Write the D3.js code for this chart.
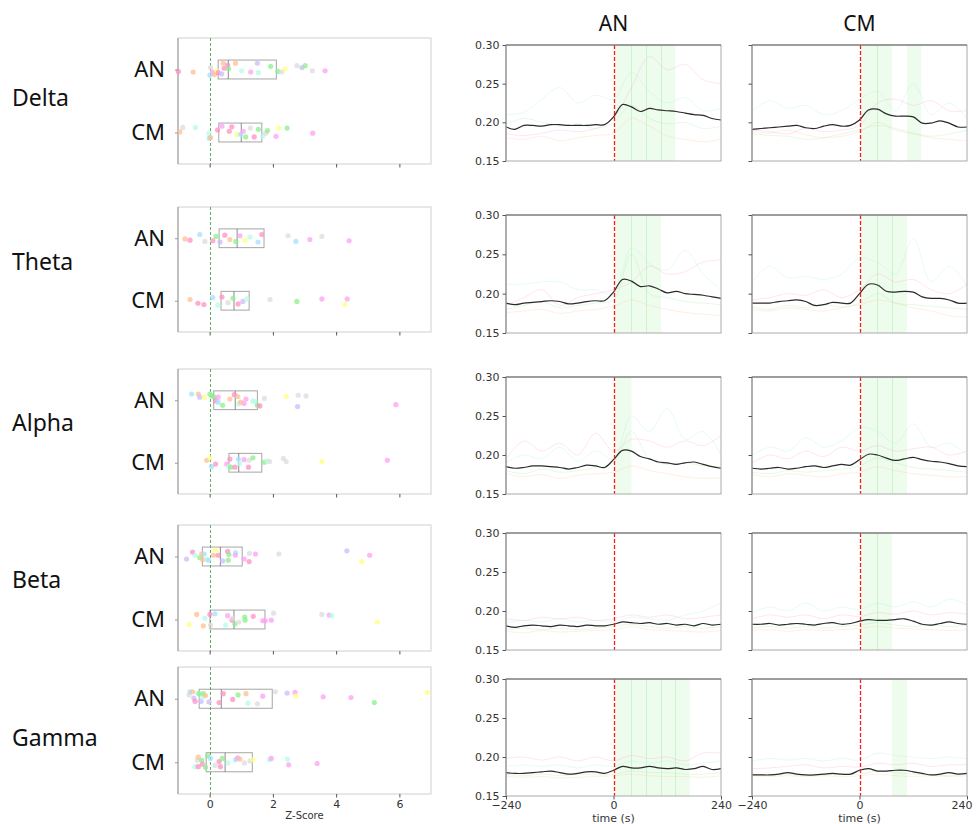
<!DOCTYPE html>
<html>
<head>
<meta charset="utf-8">
<script src="https://cdn.jsdelivr.net/npm/d3@7"></script>
<style>
  body { margin: 0; background: #fff; }
  svg { display: block; }
</style>
</head>
<body>
<div id="fig"></div>
<script>
// ---- data ----
const bands = ["Delta", "Theta", "Alpha", "Beta", "Gamma"];
const groups = ["AN", "CM"];
const zTicks = [0, 2, 4, 6];
const timeTicks = [-240, 0, 240];
const powerTicks = [0.15, 0.20, 0.25, 0.30];
const meanTimes = [-240, -220, -200, -180, -160, -140, -120, -100, -80, -60, -40, -20, 0,
  20, 40, 60, 80, 100, 120, 140, 160, 180, 200, 220, 240];
const subjTimes = [-240, -200, -160, -120, -80, -40, 0, 40, 80, 120, 160, 200, 240];
// sliding windows tested after onset (s)
const windowEdges = [3, 40, 73, 106, 138, 170];

// subject colours (pink, peach, green, light blue, lavender, yellow, grey, mint, pink 2)
const dotColors = ["#ff8fc4", "#ffbf90", "#8cef8c", "#a6e0ff", "#cdbaff", "#ffff80", "#dcdcdc", "#b4fbe8", "#ffa0f4"];
const subjColors = ["#ff9fd0", "#a8eee4", "#a0eca0", "#ffc49a"];

// mean relative power, AN / CM
const meanDeltaAN = [0.194, 0.191, 0.196, 0.196, 0.195, 0.197, 0.197, 0.196, 0.196, 0.196, 0.197, 0.197, 0.207,
  0.223, 0.220, 0.214, 0.218, 0.216, 0.215, 0.214, 0.212, 0.210, 0.209, 0.205, 0.203];
const meanDeltaCM = [0.191, 0.192, 0.193, 0.194, 0.195, 0.196, 0.193, 0.192, 0.195, 0.197, 0.195, 0.196, 0.203,
  0.216, 0.217, 0.211, 0.208, 0.208, 0.207, 0.199, 0.199, 0.202, 0.199, 0.194, 0.194];
const meanThetaAN = [0.188, 0.186, 0.188, 0.189, 0.190, 0.191, 0.190, 0.187, 0.188, 0.190, 0.191, 0.191, 0.202,
  0.218, 0.216, 0.209, 0.210, 0.206, 0.201, 0.203, 0.200, 0.199, 0.198, 0.196, 0.194];
const meanThetaCM = [0.188, 0.188, 0.188, 0.190, 0.191, 0.192, 0.190, 0.185, 0.186, 0.189, 0.188, 0.188, 0.200,
  0.212, 0.211, 0.203, 0.202, 0.203, 0.202, 0.196, 0.194, 0.194, 0.192, 0.188, 0.188];
const meanAlphaAN = [0.185, 0.183, 0.184, 0.186, 0.186, 0.185, 0.184, 0.182, 0.184, 0.187, 0.186, 0.184, 0.194,
  0.206, 0.205, 0.198, 0.195, 0.191, 0.190, 0.188, 0.190, 0.191, 0.188, 0.185, 0.183];
const meanAlphaCM = [0.183, 0.182, 0.183, 0.184, 0.182, 0.183, 0.185, 0.186, 0.184, 0.186, 0.188, 0.187, 0.194,
  0.201, 0.200, 0.196, 0.193, 0.195, 0.197, 0.194, 0.192, 0.191, 0.189, 0.186, 0.185];
const meanBetaAN = [0.181, 0.179, 0.181, 0.182, 0.181, 0.180, 0.182, 0.181, 0.180, 0.182, 0.181, 0.181, 0.183,
  0.186, 0.185, 0.184, 0.185, 0.183, 0.184, 0.182, 0.183, 0.181, 0.184, 0.182, 0.183];
const meanBetaCM = [0.183, 0.183, 0.184, 0.182, 0.183, 0.184, 0.183, 0.182, 0.184, 0.185, 0.183, 0.184, 0.187,
  0.189, 0.188, 0.188, 0.189, 0.190, 0.187, 0.183, 0.182, 0.184, 0.186, 0.184, 0.183];
const meanGammaAN = [0.180, 0.179, 0.179, 0.180, 0.181, 0.182, 0.180, 0.178, 0.179, 0.181, 0.181, 0.179, 0.183,
  0.188, 0.186, 0.186, 0.188, 0.186, 0.185, 0.186, 0.184, 0.185, 0.188, 0.184, 0.185];
const meanGammaCM = [0.177, 0.177, 0.177, 0.178, 0.180, 0.178, 0.177, 0.177, 0.178, 0.179, 0.178, 0.178, 0.183,
  0.185, 0.182, 0.182, 0.183, 0.183, 0.181, 0.179, 0.177, 0.178, 0.180, 0.178, 0.179];

// a few individual subjects (faint lines)
const subjDeltaAN = [
  [0.185, 0.183, 0.186, 0.190, 0.188, 0.192, 0.205, 0.245, 0.285, 0.268, 0.275, 0.255, 0.250],
  [0.210, 0.213, 0.230, 0.245, 0.225, 0.235, 0.230, 0.265, 0.240, 0.225, 0.232, 0.215, 0.218],
  [0.198, 0.205, 0.200, 0.195, 0.198, 0.192, 0.200, 0.222, 0.205, 0.198, 0.200, 0.192, 0.195],
  [0.180, 0.178, 0.182, 0.176, 0.180, 0.183, 0.186, 0.205, 0.195, 0.182, 0.178, 0.175, 0.178]];
const subjDeltaCM = [
  [0.190, 0.188, 0.185, 0.192, 0.188, 0.190, 0.196, 0.225, 0.230, 0.222, 0.228, 0.215, 0.215],
  [0.215, 0.228, 0.218, 0.222, 0.210, 0.215, 0.230, 0.240, 0.215, 0.250, 0.210, 0.225, 0.205],
  [0.185, 0.183, 0.182, 0.178, 0.180, 0.185, 0.190, 0.196, 0.192, 0.186, 0.182, 0.185, 0.190],
  [0.188, 0.186, 0.190, 0.184, 0.180, 0.182, 0.188, 0.200, 0.190, 0.185, 0.180, 0.178, 0.176]];
const subjThetaAN = [
  [0.185, 0.195, 0.205, 0.185, 0.195, 0.200, 0.205, 0.215, 0.235, 0.225, 0.228, 0.240, 0.243],
  [0.212, 0.212, 0.215, 0.215, 0.205, 0.205, 0.200, 0.258, 0.238, 0.230, 0.255, 0.225, 0.205],
  [0.180, 0.185, 0.190, 0.182, 0.185, 0.188, 0.192, 0.250, 0.200, 0.195, 0.190, 0.188, 0.186],
  [0.176, 0.178, 0.180, 0.175, 0.178, 0.180, 0.184, 0.192, 0.185, 0.180, 0.176, 0.174, 0.172]];
const subjThetaCM = [
  [0.192, 0.195, 0.200, 0.198, 0.205, 0.195, 0.205, 0.225, 0.215, 0.218, 0.205, 0.200, 0.212],
  [0.215, 0.235, 0.220, 0.222, 0.218, 0.225, 0.245, 0.240, 0.225, 0.270, 0.215, 0.235, 0.210],
  [0.183, 0.180, 0.185, 0.182, 0.186, 0.183, 0.188, 0.200, 0.188, 0.186, 0.184, 0.182, 0.180],
  [0.180, 0.178, 0.182, 0.180, 0.178, 0.182, 0.186, 0.192, 0.188, 0.182, 0.178, 0.172, 0.170]];
const subjAlphaAN = [
  [0.195, 0.218, 0.205, 0.215, 0.200, 0.228, 0.205, 0.220, 0.218, 0.210, 0.218, 0.212, 0.225],
  [0.190, 0.200, 0.195, 0.210, 0.192, 0.205, 0.195, 0.250, 0.230, 0.260, 0.220, 0.230, 0.200],
  [0.180, 0.176, 0.182, 0.178, 0.180, 0.184, 0.190, 0.230, 0.195, 0.188, 0.190, 0.186, 0.185],
  [0.176, 0.172, 0.175, 0.170, 0.174, 0.176, 0.178, 0.186, 0.180, 0.176, 0.172, 0.170, 0.171]];
const subjAlphaCM = [
  [0.190, 0.200, 0.195, 0.205, 0.198, 0.210, 0.205, 0.212, 0.205, 0.208, 0.210, 0.200, 0.205],
  [0.200, 0.210, 0.205, 0.222, 0.210, 0.218, 0.235, 0.230, 0.215, 0.240, 0.210, 0.215, 0.200],
  [0.178, 0.176, 0.180, 0.178, 0.180, 0.182, 0.186, 0.196, 0.190, 0.184, 0.182, 0.180, 0.178],
  [0.175, 0.172, 0.176, 0.174, 0.172, 0.176, 0.178, 0.185, 0.180, 0.176, 0.174, 0.172, 0.172]];
const subjBetaAN = [
  [0.190, 0.188, 0.192, 0.190, 0.192, 0.188, 0.190, 0.195, 0.192, 0.195, 0.190, 0.192, 0.195],
  [0.185, 0.188, 0.186, 0.190, 0.186, 0.188, 0.186, 0.192, 0.190, 0.188, 0.195, 0.200, 0.210],
  [0.176, 0.178, 0.176, 0.178, 0.176, 0.178, 0.180, 0.183, 0.180, 0.178, 0.180, 0.178, 0.180],
  [0.174, 0.172, 0.175, 0.173, 0.174, 0.175, 0.176, 0.180, 0.176, 0.175, 0.174, 0.173, 0.175]];
const subjBetaCM = [
  [0.190, 0.195, 0.192, 0.195, 0.190, 0.195, 0.193, 0.198, 0.196, 0.200, 0.195, 0.198, 0.196],
  [0.198, 0.205, 0.200, 0.210, 0.200, 0.205, 0.202, 0.210, 0.205, 0.212, 0.205, 0.215, 0.208],
  [0.178, 0.180, 0.178, 0.180, 0.178, 0.180, 0.182, 0.185, 0.182, 0.180, 0.182, 0.180, 0.182],
  [0.175, 0.176, 0.174, 0.176, 0.175, 0.176, 0.178, 0.180, 0.178, 0.177, 0.176, 0.175, 0.176]];
const subjGammaAN = [
  [0.198, 0.200, 0.196, 0.200, 0.195, 0.200, 0.195, 0.202, 0.198, 0.200, 0.195, 0.205, 0.205],
  [0.188, 0.190, 0.188, 0.190, 0.186, 0.190, 0.188, 0.195, 0.192, 0.195, 0.190, 0.192, 0.195],
  [0.178, 0.176, 0.178, 0.176, 0.178, 0.177, 0.178, 0.182, 0.180, 0.180, 0.178, 0.178, 0.180],
  [0.175, 0.174, 0.175, 0.173, 0.174, 0.175, 0.176, 0.178, 0.176, 0.175, 0.175, 0.174, 0.176]];
const subjGammaCM = [
  [0.185, 0.186, 0.188, 0.190, 0.186, 0.188, 0.187, 0.192, 0.190, 0.192, 0.188, 0.190, 0.190],
  [0.195, 0.198, 0.196, 0.198, 0.195, 0.198, 0.196, 0.205, 0.202, 0.200, 0.198, 0.200, 0.198],
  [0.178, 0.176, 0.178, 0.176, 0.177, 0.178, 0.178, 0.182, 0.180, 0.178, 0.177, 0.176, 0.178],
  [0.176, 0.175, 0.176, 0.175, 0.176, 0.175, 0.176, 0.178, 0.176, 0.175, 0.176, 0.175, 0.176]];

// significant windows (index into windowEdges)
const sigDeltaAN = [0, 1, 2, 3];
const sigDeltaCM = [0, 1, 3];
const sigThetaAN = [0, 1, 2];
const sigThetaCM = [0, 1, 2];
const sigAlphaAN = [0];
const sigAlphaCM = [0, 1, 2];
const sigBetaAN = [];
const sigBetaCM = [0, 1];
const sigGammaAN = [0, 1, 2, 3, 4];
const sigGammaCM = [2];

// box stats [q1, median, q3] of z-scores
const boxDeltaAN = [0.27, 0.59, 2.11];
const boxDeltaCM = [0.29, 1.00, 1.65];
const boxThetaAN = [0.30, 0.87, 1.72];
const boxThetaCM = [0.36, 0.77, 1.25];
const boxAlphaAN = [0.13, 0.81, 1.51];
const boxAlphaCM = [0.61, 0.92, 1.65];
const boxBetaAN = [-0.23, 0.34, 1.03];
const boxBetaCM = [0.01, 0.77, 1.75];
const boxGammaAN = [-0.33, 0.37, 1.98];
const boxGammaCM = [-0.11, 0.49, 1.35];

// individual z-scores [z, jitter, colour index]
const ptsDeltaAN = [[-0.99, 0.03, 0], [-0.52, 0.04, 1], [0.03, -0.03, 6], [0.01, 0.09, 3], [0.09, 0.04, 8],
  [0.15, 0.08, 1], [0.22, 0.02, 5], [0.27, 0.05, 0], [0.38, 0.07, 4], [0.43, -0.10, 1], [0.46, -0.02, 0],
  [0.57, -0.07, 0], [0.60, -0.01, 2], [0.82, -0.10, 1], [1.01, 0.02, 7], [1.30, 0.04, 8], [1.51, -0.10, 4],
  [1.54, 0.05, 7], [1.93, -0.05, 2], [2.16, 0.03, 2], [2.28, 0.04, 6], [2.38, -0.01, 5], [2.76, -0.06, 6],
  [2.92, -0.03, 4], [3.02, -0.06, 2], [3.25, 0.02, 6], [3.65, 0.02, 8]];
const ptsDeltaCM = [[-0.94, -0.01, 1], [-0.85, -0.08, 6], [-0.45, -0.08, 7], [-0.02, 0.01, 7], [-0.01, 0.09, 3],
  [0.03, 0.08, 1], [0.25, -0.04, 0], [0.39, -0.10, 8], [0.62, -0.02, 0], [0.70, -0.09, 0], [0.86, 0.03, 5],
  [0.98, 0.03, 3], [1.06, -0.02, 8], [1.14, 0.07, 2], [1.29, -0.07, 6], [1.41, 0.07, 0], [1.54, -0.05, 2],
  [1.68, 0.06, 7], [1.77, 0.01, 6], [1.83, -0.03, 2], [2.10, 0.06, 8], [2.19, -0.07, 5], [2.45, -0.07, 2],
  [3.26, 0.01, 8]];
const ptsThetaAN = [[-0.78, 0.01, 1], [-0.62, 0.03, 0], [-0.31, -0.06, 3], [-0.15, 0.05, 6], [0.10, 0.04, 0],
  [0.20, -0.03, 2], [0.33, 0.06, 4], [0.48, -0.05, 0], [0.64, 0.02, 1], [0.83, 0.05, 2], [0.96, -0.04, 8],
  [1.12, 0.03, 5], [1.28, -0.02, 7], [1.53, 0.06, 3], [1.65, -0.06, 0], [2.48, -0.04, 6], [2.73, 0.05, 3],
  [3.17, 0.02, 8], [3.55, -0.03, 6], [4.41, 0.04, 8]];
const ptsThetaCM = [[-0.62, -0.02, 1], [-0.37, 0.04, 0], [-0.18, 0.06, 0], [0.10, -0.05, 3], [0.26, 0.07, 7],
  [0.39, -0.06, 0], [0.58, 0.03, 6], [0.74, -0.04, 2], [0.90, 0.05, 0], [1.05, 0.01, 4], [1.18, -0.03, 7],
  [1.91, -0.02, 6], [2.76, 0.01, 2], [3.55, -0.03, 8], [4.28, 0.06, 5], [4.35, -0.03, 8]];
const ptsAlphaAN = [[-0.57, -0.10, 3], [-0.36, -0.10, 1], [-0.31, -0.05, 4], [-0.17, -0.05, 5], [0.01, -0.10, 2],
  [0.07, -0.07, 2], [0.14, -0.05, 2], [0.19, 0.01, 0], [0.27, -0.05, 8], [0.27, 0.03, 3], [0.41, 0.08, 2],
  [0.64, -0.02, 1], [0.78, -0.09, 0], [0.89, -0.06, 1], [0.91, 0.06, 7], [0.98, 0.03, 1], [1.09, 0.05, 8],
  [1.15, -0.02, 8], [1.36, 0.01, 7], [1.43, 0.02, 7], [1.51, 0.08, 2], [1.59, 0.09, 0], [1.73, -0.03, 6],
  [2.42, -0.06, 5], [2.78, 0.10, 4], [2.80, -0.08, 6], [3.05, -0.07, 6], [5.89, 0.07, 8]];
const ptsAlphaCM = [[-0.09, -0.04, 1], [0.01, -0.08, 5], [0.06, 0.06, 3], [0.19, 0.02, 0], [0.54, 0.02, 8],
  [0.64, -0.06, 0], [0.61, 0.06, 7], [0.67, 0.07, 2], [0.80, 0.07, 0], [0.91, -0.06, 3], [0.94, 0.01, 7],
  [1.09, -0.05, 8], [1.23, 0.07, 0], [1.25, -0.04, 6], [1.37, -0.08, 2], [1.73, -0.01, 2], [1.82, -0.03, 7],
  [1.90, -0.02, 6], [2.33, -0.07, 6], [2.42, -0.02, 6], [3.55, -0.02, 5], [5.62, -0.04, 8]];
const ptsBetaAN = [[-0.73, 0.04, 4], [-0.54, -0.07, 0], [-0.46, -0.02, 7], [-0.31, 0.02, 2], [-0.25, -0.04, 1],
  [-0.22, 0.05, 1], [-0.17, -0.04, 3], [-0.09, 0.04, 7], [-0.04, 0.06, 3], [0.12, -0.02, 1], [0.19, -0.10, 5],
  [0.27, -0.02, 0], [0.41, 0.07, 4], [0.57, -0.08, 0], [0.61, -0.03, 2], [0.59, 0.06, 2], [0.82, -0.06, 3],
  [0.81, -0.02, 8], [1.09, 0.04, 8], [1.25, 0.08, 0], [1.26, -0.05, 6], [1.45, -0.04, 8], [2.19, -0.04, 6],
  [4.34, -0.09, 4], [4.81, 0.08, 5], [5.06, -0.02, 8]];
const ptsBetaCM = [[-0.65, 0.08, 5], [-0.41, -0.08, 1], [-0.20, 0.10, 1], [-0.15, -0.02, 7], [0.01, -0.08, 0],
  [0.03, 0.09, 6], [0.17, -0.09, 3], [0.51, 0.09, 7], [0.57, -0.06, 8], [0.71, 0.01, 0], [0.73, -0.02, 6],
  [0.80, 0.07, 2], [0.92, 0.04, 6], [1.11, -0.04, 2], [1.12, 0.01, 2], [1.38, -0.05, 0], [1.68, 0.02, 8],
  [1.76, 0.02, 8], [1.95, 0.01, 8], [2.02, -0.10, 6], [3.55, -0.08, 6], [3.78, -0.07, 8], [3.86, -0.06, 7],
  [5.30, 0.04, 5]];
const ptsGammaAN = [[-0.65, -0.06, 6], [-0.62, -0.11, 3], [-0.54, -0.11, 1], [-0.50, -0.01, 4], [-0.46, 0.04, 0],
  [-0.38, -0.09, 7], [-0.33, -0.08, 2], [-0.27, 0.04, 4], [-0.24, -0.02, 7], [-0.20, -0.08, 2], [-0.13, -0.05, 1],
  [-0.02, 0.05, 4], [0.30, 0.06, 0], [0.43, -0.08, 0], [0.73, 0.01, 0], [0.90, -0.06, 2], [1.15, -0.08, 1],
  [1.21, 0.07, 7], [1.51, 0.08, 6], [1.68, -0.04, 8], [2.08, -0.11, 6], [2.45, -0.09, 4], [2.70, -0.10, 8],
  [2.72, -0.04, 5], [3.59, -0.03, 8], [4.47, -0.02, 8], [5.21, 0.06, 2], [6.88, -0.10, 5]];
const ptsGammaCM = [[-0.46, 0.07, 7], [-0.39, -0.03, 6], [-0.36, -0.08, 1], [-0.36, 0.07, 0], [-0.25, -0.03, 2],
  [-0.23, 0.03, 0], [-0.13, 0.08, 2], [-0.06, -0.10, 2], [0.03, -0.06, 3], [0.17, 0.05, 6], [0.30, -0.01, 0],
  [0.34, 0.07, 0], [0.40, -0.06, 2], [0.58, 0.01, 7], [0.82, -0.04, 3], [0.89, -0.07, 8], [0.96, -0.05, 1],
  [1.10, 0.01, 6], [1.28, -0.02, 6], [1.37, -0.04, 5], [1.89, -0.04, 7], [1.95, -0.06, 8], [2.46, -0.05, 7],
  [2.50, 0.04, 8], [3.40, 0.02, 8]];

const table = {
  Delta: { AN: { mean: meanDeltaAN, subj: subjDeltaAN, sig: sigDeltaAN, box: boxDeltaAN, pts: ptsDeltaAN },
           CM: { mean: meanDeltaCM, subj: subjDeltaCM, sig: sigDeltaCM, box: boxDeltaCM, pts: ptsDeltaCM } },
  Theta: { AN: { mean: meanThetaAN, subj: subjThetaAN, sig: sigThetaAN, box: boxThetaAN, pts: ptsThetaAN },
           CM: { mean: meanThetaCM, subj: subjThetaCM, sig: sigThetaCM, box: boxThetaCM, pts: ptsThetaCM } },
  Alpha: { AN: { mean: meanAlphaAN, subj: subjAlphaAN, sig: sigAlphaAN, box: boxAlphaAN, pts: ptsAlphaAN },
           CM: { mean: meanAlphaCM, subj: subjAlphaCM, sig: sigAlphaCM, box: boxAlphaCM, pts: ptsAlphaCM } },
  Beta:  { AN: { mean: meanBetaAN, subj: subjBetaAN, sig: sigBetaAN, box: boxBetaAN, pts: ptsBetaAN },
           CM: { mean: meanBetaCM, subj: subjBetaCM, sig: sigBetaCM, box: boxBetaCM, pts: ptsBetaCM } },
  Gamma: { AN: { mean: meanGammaAN, subj: subjGammaAN, sig: sigGammaAN, box: boxGammaAN, pts: ptsGammaAN },
           CM: { mean: meanGammaCM, subj: subjGammaCM, sig: sigGammaCM, box: boxGammaCM, pts: ptsGammaCM } }
};

// ---- layout ----
const width = 976, height = 824;
const boxRows = [[38, 164], [207, 332], [369, 494], [525, 651], [667, 794]];
const tsRows = [[45, 161], [215, 333], [377, 494], [533, 650], [679, 796]];
const labelY = [98, 262, 423, 580, 738];
const boxX = [178, 431];
const tsX = { AN: [506, 721], CM: [752, 967] };
const tickFont = "'DejaVu Sans', sans-serif";
const labelFont = "'Noto Sans', sans-serif";

const svg = d3.select("#fig").append("svg")
  .attr("width", width)
  .attr("height", height)
  .style("background", "#fff");

const defs = svg.append("defs");

// column titles
groups.forEach(g => {
  svg.append("text")
    .attr("x", (tsX[g][0] + tsX[g][1]) / 2)
    .attr("y", 31)
    .attr("text-anchor", "middle")
    .style("font-family", labelFont)
    .style("font-size", "21px")
    .style("fill", "#111")
    .text(g);
});

const xz = d3.scaleLinear().domain([-1, 7]).range(boxX);

bands.forEach((band, i) => {
  const last = i === bands.length - 1;

  // row label
  svg.append("text")
    .attr("x", 12)
    .attr("y", labelY[i])
    .attr("dy", "0.35em")
    .style("font-family", labelFont)
    .style("font-size", "23px")
    .style("fill", "#111")
    .text(band);

  // ---- box + strip panel ----
  const [top, bot] = boxRows[i];
  const yc = d3.scaleLinear().domain([-0.5, 1.5]).range([top, bot]);
  const gb = svg.append("g");

  gb.append("rect")
    .attr("x", boxX[0]).attr("y", top)
    .attr("width", boxX[1] - boxX[0]).attr("height", bot - top)
    .attr("fill", "none").attr("stroke", "#cfcfcf");
  gb.append("line")
    .attr("x1", boxX[0]).attr("x2", boxX[0]).attr("y1", top).attr("y2", bot)
    .attr("stroke", "#999");

  // zero line
  const zx = Math.round(xz(0)) + 0.5;
  gb.append("line")
    .attr("x1", zx).attr("x2", zx).attr("y1", top).attr("y2", bot)
    .attr("stroke", "#4aa84a").attr("stroke-width", 0.9)
    .attr("stroke-dasharray", "3,2");

  groups.forEach((g, k) => {
    const d = table[band][g];
    const bh = 0.15;
    gb.append("rect")
      .attr("x", xz(d.box[0])).attr("y", yc(k - bh))
      .attr("width", xz(d.box[2]) - xz(d.box[0]))
      .attr("height", yc(k + bh) - yc(k - bh))
      .attr("fill", "none").attr("stroke", "#777").attr("stroke-opacity", 0.65);
    gb.append("line")
      .attr("x1", xz(d.box[1])).attr("x2", xz(d.box[1]))
      .attr("y1", yc(k - bh)).attr("y2", yc(k + bh))
      .attr("stroke", "#666").attr("stroke-opacity", 0.75);

    gb.selectAll(null)
      .data(d.pts)
      .join("circle")
      .attr("cx", p => xz(p[0]))
      .attr("cy", p => yc(k + p[1]))
      .attr("r", 2.6)
      .attr("fill", p => dotColors[p[2]])
      .attr("fill-opacity", 0.75);
  });

  // y axis (group names)
  const yAxis = gb.append("g")
    .attr("transform", `translate(${boxX[0]},0)`)
    .call(d3.axisLeft(d3.scaleOrdinal().domain(groups).range([yc(0), yc(1)]))
      .tickSize(3).tickPadding(10));
  yAxis.select(".domain").remove();
  yAxis.selectAll("line").attr("stroke", "#999");
  yAxis.selectAll("text")
    .style("font-family", labelFont)
    .style("font-size", "22px")
    .style("fill", "#111");

  // x axis
  const xAxis = gb.append("g")
    .attr("transform", `translate(0,${bot})`)
    .call(d3.axisBottom(xz).tickValues(zTicks).tickSize(3.5).tickPadding(3));
  xAxis.select(".domain").remove();
  xAxis.selectAll("line").attr("stroke", "#555");
  if (last) {
    xAxis.selectAll("text")
      .style("font-family", tickFont)
      .style("font-size", "11px")
      .style("fill", "#333");
    svg.append("text")
      .attr("x", (boxX[0] + boxX[1]) / 2)
      .attr("y", 819)
      .attr("text-anchor", "middle")
      .style("font-family", tickFont)
      .style("font-size", "10px")
      .style("fill", "#333")
      .text("Z-Score");
  } else {
    xAxis.selectAll("text").remove();
  }

  // ---- time course panels ----
  groups.forEach((g, k) => {
    const d = table[band][g];
    const [t0, t1] = tsRows[i];
    const x = d3.scaleLinear().domain([-240, 240]).range(tsX[g]);
    const y = d3.scaleLinear().domain([0.15, 0.30]).range([t1, t0]);
    const gt = svg.append("g");
    const clipId = `clip-${band}-${g}`;
    defs.append("clipPath").attr("id", clipId)
      .append("rect")
      .attr("x", tsX[g][0]).attr("y", t0)
      .attr("width", tsX[g][1] - tsX[g][0]).attr("height", t1 - t0);

    const inner = gt.append("g").attr("clip-path", `url(#${clipId})`);

    // significant windows
    d.sig.forEach(w => {
      inner.append("rect")
        .attr("x", x(windowEdges[w])).attr("y", t0)
        .attr("width", x(windowEdges[w + 1]) - x(windowEdges[w]))
        .attr("height", t1 - t0)
        .attr("fill", "#edfcec");
    });
    d.sig.forEach(w => {
      if (d.sig.includes(w + 1)) {
        const ex = Math.round(x(windowEdges[w + 1])) + 0.5;
        inner.append("line")
          .attr("x1", ex).attr("x2", ex)
          .attr("y1", t0).attr("y2", t1)
          .attr("stroke", "#cdf3cd").attr("stroke-width", 1);
      }
    });

    const line = d3.line()
      .x((v, j) => x(subjTimes[j]))
      .y(v => y(v))
      .curve(d3.curveCatmullRom);
    d.subj.forEach((s, j) => {
      inner.append("path")
        .attr("d", line(s))
        .attr("fill", "none")
        .attr("stroke", subjColors[j])
        .attr("stroke-opacity", 0.28)
        .attr("stroke-width", 1);
    });

    const meanLine = d3.line()
      .x((v, j) => x(meanTimes[j]))
      .y(v => y(v))
      .curve(d3.curveCatmullRom);
    inner.append("path")
      .attr("d", meanLine(d.mean))
      .attr("fill", "none")
      .attr("stroke", "#2a2a2a")
      .attr("stroke-width", 1.2);

    // onset
    const ox = Math.round(x(0)) + 0.5;
    gt.append("line")
      .attr("x1", ox).attr("x2", ox).attr("y1", t0).attr("y2", t1)
      .attr("stroke", "#ff1a1a").attr("stroke-width", 1.3)
      .attr("stroke-dasharray", "4,2");

    // frame
    gt.append("rect")
      .attr("x", tsX[g][0]).attr("y", t0)
      .attr("width", tsX[g][1] - tsX[g][0]).attr("height", t1 - t0)
      .attr("fill", "none").attr("stroke", "#aaa");
    gt.append("line")
      .attr("x1", tsX[g][0]).attr("x2", tsX[g][1]).attr("y1", t0).attr("y2", t0)
      .attr("stroke", "#666");
    gt.append("line")
      .attr("x1", tsX[g][0]).attr("x2", tsX[g][0]).attr("y1", t0).attr("y2", t1)
      .attr("stroke", "#888");

    const ya = gt.append("g")
      .attr("transform", `translate(${tsX[g][0]},0)`)
      .call(d3.axisLeft(y).tickValues(powerTicks).tickFormat(d3.format(".2f")).tickSize(3.5).tickPadding(3));
    ya.select(".domain").remove();
    ya.selectAll("line").attr("stroke", "#555");
    if (k === 0) {
      ya.selectAll("text")
        .style("font-family", tickFont)
        .style("font-size", "11px")
        .style("fill", "#333");
    } else {
      ya.selectAll("text").remove();
    }

    if (last) {
      const xa = gt.append("g")
        .attr("transform", `translate(0,${t1})`)
        .call(d3.axisBottom(x).tickValues(timeTicks).tickSize(3.5).tickPadding(2));
      xa.select(".domain").remove();
      xa.selectAll("line").attr("stroke", "#555");
      xa.selectAll("text")
        .style("font-family", tickFont)
        .style("font-size", "11px")
        .style("fill", "#333");
      // keep the right-most label inside the page
      if (k === 1) {
        xa.selectAll("text").filter(v => v === 240).attr("dx", "-0.5em");
      }
      gt.append("text")
        .attr("x", (tsX[g][0] + tsX[g][1]) / 2)
        .attr("y", 822)
        .attr("text-anchor", "middle")
        .style("font-family", tickFont)
        .style("font-size", "11px")
        .style("fill", "#333")
        .text("time (s)");
    }
  });
});
</script>
</body>
</html>
